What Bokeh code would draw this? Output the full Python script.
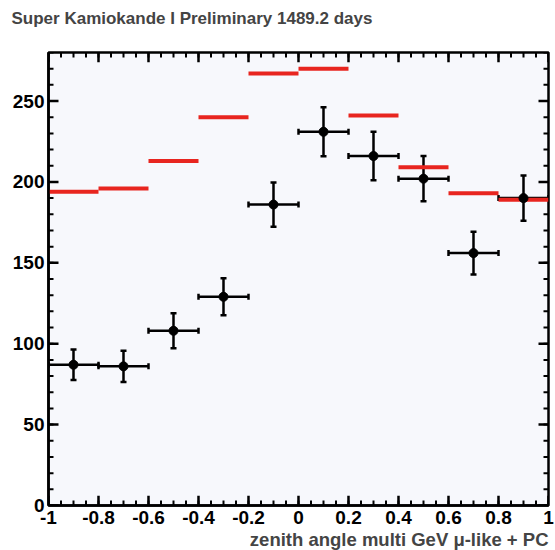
from bokeh.plotting import figure
from bokeh.models import LinearAxis, FixedTicker, Whisker, TeeHead, ColumnDataSource, Title, Range1d
from bokeh.embed import file_html
from bokeh.resources import INLINE

# ---- data ----
bin_lo = [-1.0, -0.8, -0.6, -0.4, -0.2, 0.0, 0.2, 0.4, 0.6, 0.8]
bin_hi = [-0.8, -0.6, -0.4, -0.2, 0.0, 0.2, 0.4, 0.6, 0.8, 1.0]
bin_center = [-0.9, -0.7, -0.5, -0.3, -0.1, 0.1, 0.3, 0.5, 0.7, 0.9]
data_counts = [87, 86, 108, 129, 186, 231, 216, 202, 156, 190]
data_err = [9.5, 9.7, 10.8, 11.4, 13.7, 15.2, 15.0, 14.0, 13.2, 14.0]
mc_expect = [194, 196, 213, 240, 267, 270, 241, 209, 193, 189]

x_ticks = [-1, -0.8, -0.6, -0.4, -0.2, 0, 0.2, 0.4, 0.6, 0.8, 1]
x_tick_labels = ["-1", "-0.8", "-0.6", "-0.4", "-0.2", "0", "0.2", "0.4", "0.6", "0.8", "1"]
x_minor = [round(-1 + 0.05 * i, 2) for i in range(41)]
y_ticks = [0, 50, 100, 150, 200, 250]
y_minor = list(range(0, 281, 10))

title_text = "Super Kamiokande I Preliminary 1489.2 days"
x_label = "zenith angle multi GeV \u03bc-like + PC"

FONT = "Liberation Sans"
X0, X1, Y0, Y1 = -1, 1, 0, 280
W, H = 555, 550
BL, BR, BT, BB = 48, 7, 52, 38

p = figure(width=W, height=H, output_backend="svg", toolbar_location=None,
           x_range=Range1d(X0, X1), y_range=Range1d(Y0, Y1),
           x_axis_location=None, y_axis_location=None,
           min_border_left=BL, min_border_right=BR, min_border_top=BT, min_border_bottom=BB)
p.background_fill_color = "#f7f8fc"
p.border_fill_color = "white"
p.outline_line_color = "black"
p.outline_line_width = 2.5
p.xgrid.visible = False
p.ygrid.visible = False

p.title.text = title_text
p.title.text_font = FONT
p.title.text_font_size = "17px"
p.title.text_font_style = "bold"
p.title.align = "left"
p.title.offset = -37
p.title.vertical_align = "top"
p.title.standoff = 9

# blank spacer between the title and the frame (pushes the title to the top)
p.add_layout(Title(text=" ", text_font=FONT, text_font_size="14px", standoff=0), "above")

def style_axis(ax):
    ax.axis_line_width = 2.5
    ax.major_tick_in = 0
    ax.major_tick_out = 0
    ax.minor_tick_in = 0
    ax.minor_tick_out = 0
    ax.major_label_text_font = FONT
    ax.major_label_text_font_style = "bold"
    ax.major_label_text_color = "black"
    ax.major_label_text_font_size = "19px"

xt = FixedTicker(ticks=x_ticks, minor_ticks=x_minor)
yt = FixedTicker(ticks=y_ticks, minor_ticks=y_minor)

bx = LinearAxis(ticker=xt, major_label_overrides=dict(zip(x_ticks, x_tick_labels)))
style_axis(bx)
bx.major_label_standoff = 5
p.add_layout(bx, "below")
ly = LinearAxis(ticker=yt)
style_axis(ly)
ly.major_label_standoff = 4
p.add_layout(ly, "left")

xl = Title(text=x_label, align="right", text_font=FONT, text_font_size="18.5px",
           text_font_style="bold", standoff=1)
p.add_layout(xl, "below")

# inward ticks on all four sides (tick lengths in pixels converted to data units)
px_x = (X1 - X0) / (W - BL - BR)
px_y = (Y1 - Y0) / (H - BT - BB)
MAJ, MIN = 10, 5
TW_MAJ, TW_MIN = 2.5, 2
TC = "black"
for xs, ln, lw in ((x_ticks, MAJ, TW_MAJ), (x_minor, MIN, TW_MIN)):
    p.segment(x0=xs, y0=[Y0] * len(xs), x1=xs, y1=[Y0 + ln * px_y] * len(xs),
              line_width=lw, line_color=TC)
    p.segment(x0=xs, y0=[Y1] * len(xs), x1=xs, y1=[Y1 - ln * px_y] * len(xs),
              line_width=lw, line_color=TC)
for ys, ln, lw in ((y_ticks, MAJ, TW_MAJ), (y_minor, MIN, TW_MIN)):
    p.segment(x0=[X0] * len(ys), y0=ys, x1=[X0 + ln * px_x] * len(ys), y1=ys,
              line_width=lw, line_color=TC)
    p.segment(x0=[X1] * len(ys), y0=ys, x1=[X1 - ln * px_x] * len(ys), y1=ys,
              line_width=lw, line_color=TC)

# MC expectation (red)
p.segment(x0=bin_lo, y0=mc_expect, x1=bin_hi, y1=mc_expect, line_width=4, line_color="#e8251f")

# data with error bars
src = ColumnDataSource(dict(
    x=bin_center, y=data_counts,
    lo=bin_lo, hi=bin_hi,
    ylo=[c - e for c, e in zip(data_counts, data_err)],
    yhi=[c + e for c, e in zip(data_counts, data_err)],
))
vw = Whisker(source=src, base="x", lower="ylo", upper="yhi", dimension="height",
             line_width=2.5, line_color="black",
             lower_head=TeeHead(size=6, line_width=2.5, line_color="black"),
             upper_head=TeeHead(size=6, line_width=2.5, line_color="black"))
hw = Whisker(source=src, base="y", lower="lo", upper="hi", dimension="width",
             line_width=2.5, line_color="black",
             lower_head=TeeHead(size=6, line_width=2.5, line_color="black"),
             upper_head=TeeHead(size=6, line_width=2.5, line_color="black"))
p.add_layout(vw)
p.add_layout(hw)
p.scatter("x", "y", source=src, size=9, color="black")

open("out.html", "w").write(file_html(p, INLINE))
